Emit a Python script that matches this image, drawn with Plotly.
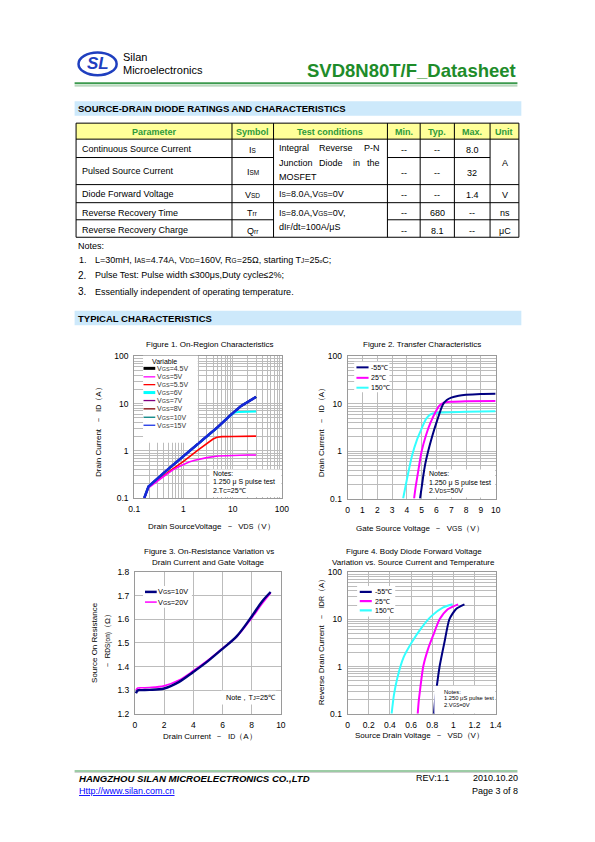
import plotly.graph_objects as go

# The page body keeps its default 8px margin; the figure is sized so that the
# whole page is exactly 595 x 842 and coordinates below are page pixels.
PAGE_W, PAGE_H = 595, 842
OX, OY = 8, 8
W, H = PAGE_W - 2 * OX, PAGE_H - 2 * OY
FONT = "Liberation Sans, Arial, sans-serif"


def X(px):
    return (px - OX) / W


def Y(py):
    return 1 - (py - OY) / H


def sm(s, size=6.5):
    return "<span style='font-size:%spx'>%s</span>" % (size, s)


# ---------------- Figure 1 data: On-Region Characteristics ----------------
f1_vds_common = [0.16, 0.195, 0.5, 1, 2, 5, 9, 12, 15, 20, 25, 30]
f1_id_common = [0.1, 0.176, 0.42, 0.78, 1.45, 3.2, 5.7, 7.4, 9.0, 10.8, 12.5, 14.0]
f1_vds_5v = [0.16, 0.195, 0.4, 0.6, 0.8, 1, 1.3, 1.7, 2.2, 3, 5, 10, 20, 30]
f1_id_5v = [0.1, 0.165, 0.29, 0.39, 0.46, 0.52, 0.58, 0.63, 0.67, 0.72, 0.78, 0.81, 0.82, 0.82]
f1_vds_55v = [0.16, 0.195, 0.5, 1, 2, 3, 4, 4.8, 6, 10, 20, 30]
f1_id_55v = [0.1, 0.17, 0.36, 0.6, 1.05, 1.45, 1.78, 1.95, 2.0, 2.01, 2.03, 2.05]
f1_vds_6v = [0.16, 0.195, 0.5, 1, 2, 5, 7, 9, 10, 11, 13, 20, 30]
f1_id_6v = [0.1, 0.176, 0.42, 0.78, 1.45, 3.15, 4.5, 5.65, 6.15, 6.5, 6.7, 6.8, 6.8]
f1_legend = ["4.5V", "5V", "5.5V", "6V", "7V", "8V", "10V", "15V"]
f1_colors = ["#000000", "#ff00ff", "#ff0000", "#00ffff", "#800080", "#800000", "#008080", "#1a33e6"]

# ---------------- Figure 2 data: Transfer Characteristics ----------------
f2_vgs_m55 = [4.89, 5.0, 5.11, 5.25, 5.44, 5.7, 6.0, 6.43, 6.7, 7.0, 7.5, 8, 9, 10]
f2_id_m55 = [0.1, 0.17, 0.3, 0.55, 1.0, 2.0, 4.0, 9.6, 12.0, 13.5, 14.8, 15.5, 16.2, 16.4]
f2_vgs_25 = [4.49, 4.6, 4.75, 5.0, 5.3, 5.6, 6.0, 6.21, 6.5, 7.0, 8, 10]
f2_id_25 = [0.1, 0.18, 0.35, 1.0, 2.2, 4.0, 7.3, 9.2, 10.6, 11.1, 11.4, 11.5]
f2_vgs_150 = [3.75, 4.0, 4.35, 4.7, 5.0, 5.3, 5.6, 6.0, 8, 10]
f2_id_150 = [0.1, 0.25, 0.8, 1.8, 3.0, 4.8, 6.0, 6.5, 6.8, 7.0]
temp_labels = ["-55℃", "25℃", "150℃"]
temp_colors = ["#000080", "#ff00ff", "#33ffff"]

# ---------------- Figure 3 data: On-Resistance ----------------
f3_id = [0.07, 0.2, 0.5, 1, 2, 3, 4, 5, 6, 7, 8, 8.7, 9.3]
f3_r_10v = [1.287, 1.299, 1.300, 1.301, 1.307, 1.334, 1.377, 1.423, 1.475, 1.530, 1.612, 1.675, 1.716]
f3_r_20v = [1.300, 1.309, 1.310, 1.311, 1.318, 1.342, 1.382, 1.427, 1.477, 1.528, 1.605, 1.665, 1.712]

# ---------------- Figure 4 data: Body Diode ----------------
f4_vsd_m55 = [0.817, 0.826, 0.839, 0.87, 0.916, 0.962, 1.024, 1.105]
f4_idr_m55 = [0.1, 0.18, 0.318, 1.0, 3.27, 10, 16.4, 20.7]
f4_vsd_25 = [0.663, 0.672, 0.685, 0.715, 0.762, 0.808, 0.87, 0.947, 1.045]
f4_idr_25 = [0.1, 0.18, 0.318, 1.0, 2.4, 4.5, 10, 16.4, 20.8]
f4_vsd_150 = [0.416, 0.438, 0.469, 0.53, 0.607, 0.70, 0.792, 0.9, 0.993]
f4_idr_150 = [0.1, 0.25, 0.56, 1.58, 3.27, 6.7, 11.7, 17.7, 20.8]

# tick labels
log_ticks = [0.1, 1, 10, 100]
log_ticktext = ["0.1", "1", "10", "100"]
minor_log = [m * 10 ** e for e in (-1, 0, 1) for m in range(2, 10)]
f2_xticks = list(range(0, 11))
f3_xticks = [0, 2, 4, 6, 8, 10]
f3_yticks = [1.2, 1.3, 1.4, 1.5, 1.6, 1.7, 1.8]
f4_xticks = [0, 0.2, 0.4, 0.6, 0.8, 1.0, 1.2, 1.4]
f4_xticktext = ["0", "0.2", "0.4", "0.6", "0.8", "1", "1.2", "1.4"]

# ---------------- table content ----------------
tbl_header = ["Parameter", "Symbol", "Test conditions", "Min.", "Typ.", "Max.", "Unit"]
tbl_params = ["Continuous Source Current", "Pulsed Source Current", "Diode Forward Voltage",
              "Reverse Recovery Time", "Reverse Recovery Charge"]
tbl_symbols = ["I" + sm("S"), "I" + sm("SM"), "V" + sm("SD"), "T" + sm("rr"), "Q" + sm("rr")]
tbl_min = ["--", "--", "--", "--", "--"]
tbl_typ = ["--", "--", "--", "680", "8.1"]
tbl_max = ["8.0", "32", "1.4", "--", "--"]

fig = go.Figure()

GRID = "#bcbcbc"
LINE = "#9a9a9a"
TF = dict(family=FONT, size=8.5, color="black")

# ---------- traces ----------
for lbl, col in zip(["7V", "8V", "10V"], ["#800080", "#800000", "#008080"]):
    fig.add_trace(go.Scatter(x=f1_vds_common, y=f1_id_common, mode="lines",
                             line=dict(color=col, width=2), xaxis="x", yaxis="y"))
fig.add_trace(go.Scatter(x=f1_vds_6v, y=f1_id_6v, mode="lines",
                         line=dict(color="#00ffff", width=2), xaxis="x", yaxis="y"))
fig.add_trace(go.Scatter(x=f1_vds_55v, y=f1_id_55v, mode="lines",
                         line=dict(color="#ff0000", width=1.6), xaxis="x", yaxis="y"))
fig.add_trace(go.Scatter(x=f1_vds_5v, y=f1_id_5v, mode="lines",
                         line=dict(color="#ff00ff", width=1.6), xaxis="x", yaxis="y"))
fig.add_trace(go.Scatter(x=f1_vds_common, y=f1_id_common, mode="lines",
                         line=dict(color="#1428d8", width=2.6), xaxis="x", yaxis="y"))

for xs, ys, col in [(f2_vgs_150, f2_id_150, temp_colors[2]),
                    (f2_vgs_25, f2_id_25, temp_colors[1]),
                    (f2_vgs_m55, f2_id_m55, temp_colors[0])]:
    fig.add_trace(go.Scatter(x=xs, y=ys, mode="lines", line=dict(color=col, width=2, shape="spline", smoothing=0.7),
                             xaxis="x2", yaxis="y2"))

fig.add_trace(go.Scatter(x=f3_id, y=f3_r_20v, mode="lines", line=dict(color="#ff00ff", width=1.6, shape="spline"),
                         xaxis="x3", yaxis="y3"))
fig.add_trace(go.Scatter(x=f3_id, y=f3_r_10v, mode="lines", line=dict(color="#000080", width=2.4, shape="spline"),
                         xaxis="x3", yaxis="y3"))

for xs, ys, col in [(f4_vsd_150, f4_idr_150, temp_colors[2]),
                    (f4_vsd_25, f4_idr_25, temp_colors[1]),
                    (f4_vsd_m55, f4_idr_m55, temp_colors[0])]:
    fig.add_trace(go.Scatter(x=xs, y=ys, mode="lines", line=dict(color=col, width=2, shape="spline", smoothing=0.6),
                             xaxis="x4", yaxis="y4"))


def axis_common(**kw):
    d = dict(showgrid=True, gridcolor=GRID, gridwidth=1, showline=True, linecolor=LINE, linewidth=1,
             mirror=True, ticks="", tickfont=TF, zeroline=False, fixedrange=True, ticklabelstandoff=3)
    d.update(kw)
    return d


def log_axis(**kw):
    return axis_common(type="log", range=[-1, 2], tickmode="array", tickvals=log_ticks, ticktext=log_ticktext,
                       minor=dict(tickmode="array", tickvals=minor_log, showgrid=True, gridcolor=GRID,
                                  gridwidth=1, ticks=""), **kw)


shapes = []
ann = []


def line(x0, y0, x1, y1, color="black", width=1):
    shapes.append(dict(type="line", xref="paper", yref="paper", x0=X(x0), y0=Y(y0), x1=X(x1), y1=Y(y1),
                       line=dict(color=color, width=width)))


def rect(x0, y0, x1, y1, fill, layer="above"):
    shapes.append(dict(type="rect", xref="paper", yref="paper", x0=X(x0), y0=Y(y1), x1=X(x1), y1=Y(y0),
                       fillcolor=fill, line=dict(color=fill, width=0), layer=layer))


def txt(x, y, s, size=9, anchor="left", color="black", angle=0, yanchor="middle"):
    ann.append(dict(x=X(x), y=Y(y), xref="paper", yref="paper", text=s, showarrow=False,
                    xanchor=anchor, yanchor=yanchor, textangle=angle, borderpad=0,
                    font=dict(family=FONT, size=size, color=color)))


# Header
shapes.append(dict(type="circle", xref="paper", yref="paper", x0=X(74), x1=X(113), y0=Y(71), y1=Y(48),
                   line=dict(color="#1f3fbf", width=2.5)))
txt(94, 59.5, "<b><i>SL</i></b>", size=17, anchor="center", color="#1f3fbf")
txt(118, 52.5, "Silan", size=11)
txt(118, 66, "Microelectronics", size=11)
txt(523, 66, "<b>SVD8N80T/F_Datasheet</b>", size=18.5, anchor="right", color="#1e8c2a")
line(70, 79, 523, 79, color="#3c9a4e", width=2)
line(70, 81.8, 523, 81.8, color="#8fbf95", width=1)

# Section bars
for ytop, ybot, label in [(97.3, 112, "SOURCE-DRAIN DIODE RATINGS AND CHARACTERISTICS"),
                          (309.5, 324, "TYPICAL CHARACTERISTICS")]:
    rect(70, ytop, 527, ybot, "#cde9fb", layer="below")
    txt(72, (ytop + ybot) / 2 + 0.5, "<b>" + label + "</b>", size=9.5)

# Table
cx = [71.5, 231, 273.5, 390, 423.5, 458.5, 495, 524.5]
ry = [119.5, 135.7, 154.3, 181.7, 200, 217.3, 235]
rect(cx[0], ry[0], cx[-1], ry[1], "#ffff99", layer="below")
line(cx[0], ry[0], cx[-1], ry[0])
line(cx[0], ry[-1], cx[-1], ry[-1])
for c in cx:
    line(c, ry[0], c, ry[-1])
line(cx[0], ry[1], cx[-1], ry[1])
line(cx[0], ry[2], cx[2], ry[2])
line(cx[3], ry[2], cx[6], ry[2])
line(cx[0], ry[3], cx[-1], ry[3])
line(cx[0], ry[4], cx[-1], ry[4])
line(cx[0], ry[5], cx[2], ry[5])
line(cx[3], ry[5], cx[-1], ry[5])
for i, h in enumerate(tbl_header):
    txt((cx[i] + cx[i + 1]) / 2, 128, "<b>" + h + "</b>", size=9, anchor="center", color="#2e9a3a")
row_y = [145.7, 168.3, 191.7, 210, 228]
val_y = [146.7, 170, 192.5, 210.5, 229]
for i in range(5):
    txt(77, row_y[i], tbl_params[i], size=9)
    txt((cx[1] + cx[2]) / 2, row_y[i] + 0.5, tbl_symbols[i], size=9, anchor="center")
    txt((cx[3] + cx[4]) / 2, val_y[i], tbl_min[i], size=9, anchor="center")
    txt((cx[4] + cx[5]) / 2, val_y[i], tbl_typ[i], size=9, anchor="center")
    txt((cx[5] + cx[6]) / 2, val_y[i], tbl_max[i], size=9, anchor="center")
txt(510, 160, "A", size=9, anchor="center")
txt(510, 192, "V", size=9, anchor="center")
txt(510, 210.5, "ns", size=9, anchor="center")
txt(510, 229, "μC", size=9, anchor="center")
txt(278, 145, "Integral", size=9)
txt(337.5, 145, "Reverse", size=9, anchor="center")
txt(383.5, 145, "P-N", size=9, anchor="right")
txt(278, 160, "Junction", size=9)
txt(332, 160, "Diode", size=9, anchor="center")
txt(358, 160, "in", size=9, anchor="center")
txt(383.5, 160, "the", size=9, anchor="right")
txt(278, 174.5, "MOSFET", size=9)
txt(278, 191.5, "I" + sm("S") + "=8.0A,V" + sm("GS") + "=0V", size=9)
txt(278, 210, "I" + sm("S") + "=8.0A,V" + sm("GS") + "=0V,", size=9)
txt(278, 224.5, "dI" + sm("F") + "/dt=100A/μS", size=9)

# Notes
txt(72, 243.5, "Notes:", size=9)
txt(73, 258, "1.", size=9)
txt(89.5, 258, "L=30mH, I" + sm("AS") + "=4.74A, V" + sm("DD") + "=160V, R" + sm("G") + "=25Ω, starting T" + sm("J")
    + "=25" + sm("o", 5) + "C;", size=9)
txt(72.5, 273.5, "2.", size=10)
txt(89.5, 273.5, "Pulse Test: Pulse width ≤300μs,Duty cycle≤2%;", size=9)
txt(72.5, 290, "3.", size=10)
txt(89.5, 290, "Essentially independent of operating temperature.", size=9)

# Chart titles
txt(208.5, 344, "Figure 1. On-Region Characteristics", size=8, anchor="center")
txt(425, 344, "Figure 2. Transfer Characteristics", size=8, anchor="center")
txt(207, 553.3, "Figure 3. On-Resistance Variation vs", size=8, anchor="center")
txt(207, 564.3, "Drain Current and Gate Voltage", size=8, anchor="center")
txt(417, 553.3, "Figure 4. Body Diode Forward Voltage", size=8, anchor="center")
txt(417, 564.3, "Variation vs. Source Current and Temperature", size=8, anchor="center")

# Axis titles
txt(210, 528, "Drain SourceVoltage  －  V" + sm("DS", 7) + "（V）", size=8, anchor="center")
txt(95, 430, "Drain Current  －  I" + sm("D", 7) + "（A）", size=8, anchor="center", angle=-90)
txt(423, 529.5, "Gate Source Voltage  －  V" + sm("GS", 7) + "（V）", size=8, anchor="center")
txt(322.5, 430, "Drain Current  －  I" + sm("D", 7) + "（A）", size=8, anchor="center", angle=-90)
txt(208, 740.5, "Drain Current  －  I" + sm("D", 7) + "（A）", size=8, anchor="center")
txt(90.5, 645, "Source On Resistance", size=8, anchor="center", angle=-90)
txt(103.5, 642, "－ R" + sm("DS(on)", 6.5) + "（Ω）", size=8, anchor="center", angle=-90)
txt(422.5, 739.5, "Source Drain Voltage  －  V" + sm("SD", 7) + "（V）", size=8, anchor="center")
txt(322, 642, "Reverse Drain Current  －  I" + sm("DR", 7) + "（A）", size=8, anchor="center", angle=-90)

# Figure 1 legend
rect(140, 355, 196, 443, "white")
txt(162, 360.5, "Variable", size=7, anchor="center")
leg1_y = [367.7, 376.3, 384.2, 392.2, 400.3, 408.7, 417.2, 425.3]
for yy, lbl, col in zip(leg1_y, f1_legend, f1_colors):
    wdt = 3 if col in ("#000000", "#00ffff") else 1.3
    line(140.5, yy, 152.5, yy, color=col, width=wdt)
    txt(153, yy, "V" + sm("GS", 5.5) + "=" + lbl, size=7, color="#333333")
# Figure 1 notes
rect(208, 470, 281.5, 498, "white")
txt(211, 474.3, "Notes:", size=7)
txt(211, 483, "1.250 μ S pulse test", size=7)
txt(211, 491.2, "2.T" + sm("C", 5) + "=25℃", size=7)

# Figure 2 legend
rect(356, 361, 392, 392, "white")
for yy, lbl, col in zip([366.7, 377.3, 387.3], temp_labels, temp_colors):
    line(358.3, yy, 370.7, yy, color=col, width=2)
    txt(372.5, yy, lbl, size=7)
rect(429, 470, 500.2, 498.5, "white")
txt(432, 474.3, "Notes:", size=7)
txt(432, 483.3, "1.250 μ S pulse test", size=7)
txt(432, 491.2, "2.V" + sm("DS", 5) + "=50V", size=7)

# Figure 3 legend
rect(140, 588, 190, 610, "white")
line(142, 594, 154, 594, color="#000080", width=2.5)
txt(154.7, 594, "V" + sm("GS", 5.5) + "=10V", size=7.3)
line(142, 604.3, 154, 604.3, color="#ff00ff", width=1.5)
txt(154.7, 604.3, "V" + sm("GS", 5.5) + "=20V", size=7.3)
rect(220, 694, 276, 708, "white")
txt(224, 701, "Note，T" + sm("J", 5.5) + "=25℃", size=7.3)

# Figure 4 legend
rect(359, 588, 398, 619, "white")
for yy, lbl, col in zip([594, 603.3, 612.7], temp_labels, temp_colors):
    line(361.7, yy, 374, yy, color=col, width=2.2)
    txt(376, yy, lbl, size=7)
rect(438, 689, 500.2, 717, "white")
txt(446.5, 695, "Notes:", size=5.8)
txt(446.5, 701.8, "1.250 μS pulse test", size=5.8)
txt(446.5, 708.6, "2.V" + sm("GS", 4.5) + "=0V", size=5.8)

# Footer
line(70, 775.3, 523, 775.3, color="#3c9a4e", width=1.2)
line(70, 776.8, 523, 776.8, color="#b0b0b0", width=0.6)
txt(73, 782.5, "<b><i>HANGZHOU SILAN MICROELECTRONICS CO.,LTD</i></b>", size=9.6)
txt(73, 795.5, "<u>Http://www.silan.com.cn</u>", size=9, color="#0000ff")
txt(418, 782.5, "REV:1.1", size=9)
txt(525, 782.5, "2010.10.20", size=9, anchor="right")
txt(525, 795.5, "Page 3 of 8", size=9, anchor="right")

fig.update_layout(
    width=W, height=H, margin=dict(l=0, r=0, t=0, b=0, pad=0),
    paper_bgcolor="white", plot_bgcolor="white", showlegend=False,
    font=dict(family=FONT, size=9, color="black"),
    xaxis=log_axis(domain=[X(131), X(282)], anchor="y"),
    yaxis=log_axis(domain=[Y(499), Y(355.7)], anchor="x"),
    xaxis2=axis_common(domain=[X(349.3), X(500.7)], anchor="y2", range=[0, 10], tickmode="array",
                       tickvals=f2_xticks),
    yaxis2=log_axis(domain=[Y(499.5), Y(355.7)], anchor="x2"),
    xaxis3=axis_common(domain=[X(131.7), X(281)], anchor="y3", range=[0, 10], tickmode="array",
                       tickvals=f3_xticks),
    yaxis3=axis_common(domain=[Y(717.3), Y(574)], anchor="x3", range=[1.2, 1.8], tickmode="array",
                       tickvals=f3_yticks, tickformat=".1f"),
    xaxis4=axis_common(domain=[X(349.3), X(500.7)], anchor="y4", range=[0, 1.4], tickmode="array",
                       tickvals=f4_xticks, ticktext=f4_xticktext),
    yaxis4=log_axis(domain=[Y(717.3), Y(574)], anchor="x4"),
    shapes=shapes, annotations=ann,
)

fig.write_html("out.html", config={"staticPlot": True})
